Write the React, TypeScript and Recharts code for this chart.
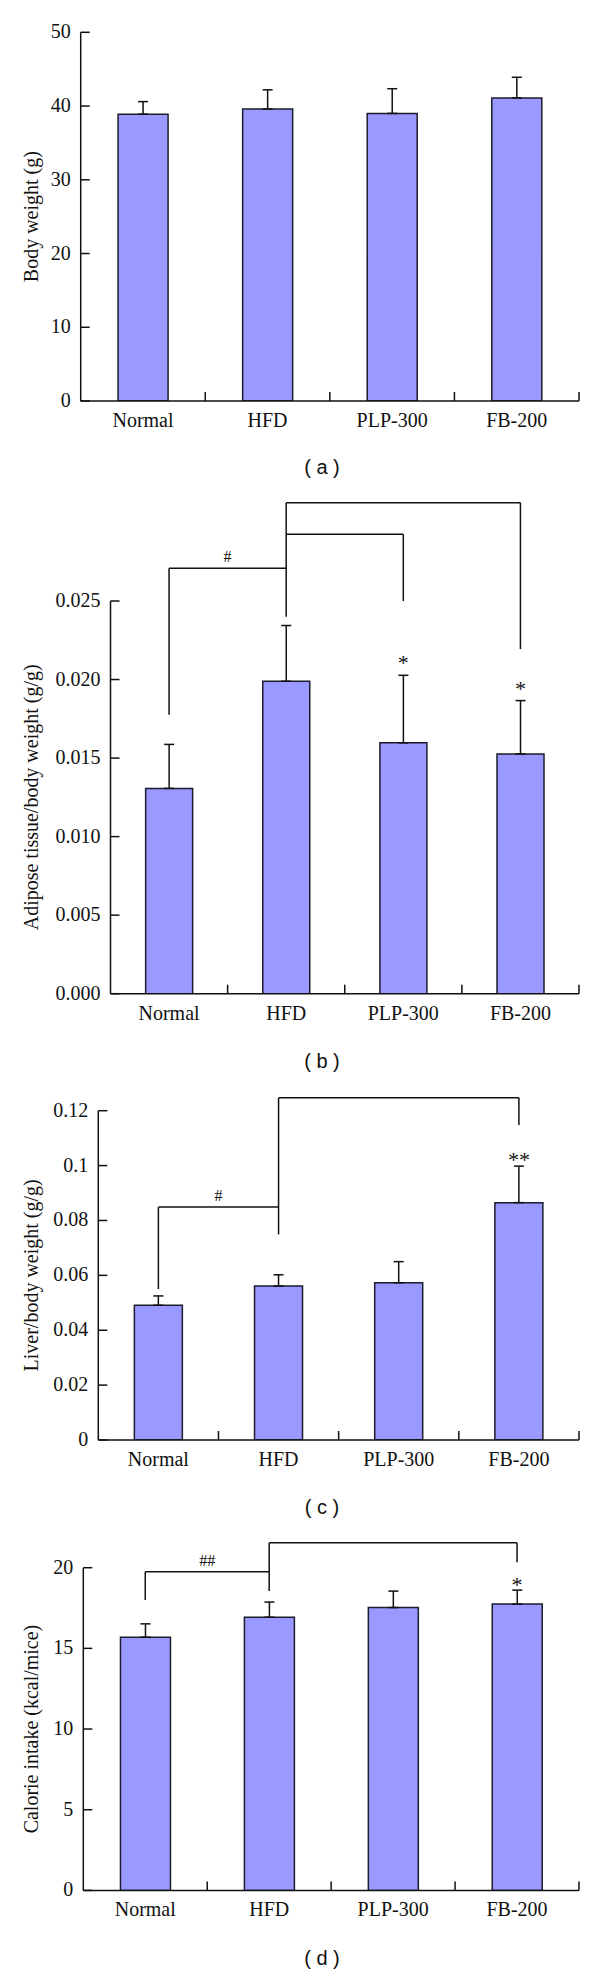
import React from 'react';
import { BarChart, Bar, XAxis, YAxis, ErrorBar, ReferenceLine, ReferenceDot } from 'recharts';

const categories = ['Normal', 'HFD', 'PLP-300', 'FB-200'];

// (a) Body weight
const bodyWeightMean = [38.9, 39.6, 39.0, 41.1];
const bodyWeightSD = [1.7, 2.6, 3.35, 2.8];
const bodyWeightTicks = [0, 10, 20, 30, 40, 50];
const bodyWeightMarks = ['', '', '', ''];

// (b) Adipose tissue / body weight
const adiposeMean = [0.01307, 0.01989, 0.01597, 0.01526];
const adiposeSD = [0.0028, 0.00355, 0.0043, 0.0034];
const adiposeTicks = [0, 0.005, 0.01, 0.015, 0.02, 0.025];
const adiposeMarks = ['', '', '*', '*'];

// (c) Liver / body weight
const liverMean = [0.0491, 0.0561, 0.0573, 0.0865];
const liverSD = [0.0034, 0.0041, 0.0077, 0.0133];
const liverTicks = [0, 0.02, 0.04, 0.06, 0.08, 0.1, 0.12];
const liverMarks = ['', '', '', '**'];

// (d) Calorie intake
const calorieMean = [15.69, 16.93, 17.53, 17.75];
const calorieSD = [0.83, 0.94, 1.02, 0.86];
const calorieTicks = [0, 5, 10, 15, 20];
const calorieMarks = ['', '', '', '*'];

// significance brackets: level of horizontal line, drop ends of verticals
const bodyWeightBrackets: any[] = [];
const adiposeBrackets = [
  { from: 'HFD', to: 'FB-200', level: 0.03126, fromDrop: 0.024, toDrop: 0.02194, mark: '' },
  { from: 'HFD', to: 'PLP-300', level: 0.02925, fromDrop: null, toDrop: 0.025, mark: '' },
  { from: 'Normal', to: 'HFD', level: 0.02708, fromDrop: 0.01776, toDrop: null, mark: '#' },
];
const liverBrackets = [
  { from: 'HFD', to: 'FB-200', level: 0.1247, fromDrop: 0.0749, toDrop: 0.1148, mark: '' },
  { from: 'Normal', to: 'HFD', level: 0.0849, fromDrop: 0.055, toDrop: null, mark: '#' },
];
const calorieBrackets = [
  { from: 'HFD', to: 'FB-200', level: 21.55, fromDrop: 18.56, toDrop: 20.33, mark: '' },
  { from: 'Normal', to: 'HFD', level: 19.75, fromDrop: 18.0, toDrop: null, mark: '##' },
];

const SERIF = '"Liberation Serif", "Times New Roman", serif';
const SANS = '"Liberation Sans", Arial, sans-serif';
const INK = '#111';
const CHART_W = 600;
const RIGHT = 21;

const YTick = (props: any) => {
  const { x, y, payload, fmt } = props;
  return (
    <g>
      <line x1={x + 10} x2={x + 19} y1={y} y2={y} stroke={INK} strokeWidth={1.5} />
      <text x={x} y={y} dy={6} textAnchor="end" fontFamily={SERIF} fontSize={20} fill={INK}>
        {fmt(payload.value)}
      </text>
    </g>
  );
};

// category label plus the boundary tick at the right edge of its band
const XTick = (props: any) => {
  const { x, y, payload, band } = props;
  const axisY = y - 11;
  const edge = x + band / 2;
  return (
    <g>
      <line x1={edge} x2={edge} y1={axisY} y2={axisY - 9} stroke={INK} strokeWidth={1.5} />
      <text x={x} y={y} dy={15} textAnchor="middle" fontFamily={SERIF} fontSize={20} fill={INK}>
        {payload.value}
      </text>
    </g>
  );
};

const YLabel = (props: any) => {
  const { viewBox, text } = props;
  const cx = 33;
  const cy = viewBox.y + viewBox.height / 2;
  return (
    <text
      x={cx}
      y={cy}
      dy="0.24em"
      transform={`rotate(-90 ${cx} ${cy})`}
      textAnchor="middle"
      fontFamily={SERIF}
      fontSize={20}
      fill={INK}
    >
      {text}
    </text>
  );
};

function Panel(p: any) {
  const data = categories.map((c, i) => ({ name: c, value: p.mean[i], err: [0, p.sd[i]] }));
  const yMax = p.ticks[p.ticks.length - 1];
  const band = (CHART_W - RIGHT - p.left) / categories.length;
  const lineProps = { stroke: INK, strokeWidth: 1.5, ifOverflow: 'visible' as const };
  const refs: any[] = [];
  p.brackets.forEach((b: any, i: number) => {
    refs.push(
      <ReferenceLine
        key={`h${i}`}
        segment={[{ x: b.from, y: b.level }, { x: b.to, y: b.level }]}
        {...lineProps}
        label={
          b.mark
            ? { value: b.mark, position: 'top', offset: 6, fontSize: 16, fontFamily: SERIF, fill: INK }
            : undefined
        }
      />
    );
    if (b.fromDrop !== null)
      refs.push(
        <ReferenceLine key={`f${i}`} segment={[{ x: b.from, y: b.level }, { x: b.from, y: b.fromDrop }]} {...lineProps} />
      );
    if (b.toDrop !== null)
      refs.push(
        <ReferenceLine key={`t${i}`} segment={[{ x: b.to, y: b.level }, { x: b.to, y: b.toDrop }]} {...lineProps} />
      );
  });
  const dots = data
    .map((d, i) =>
      p.marks[i] ? (
        <ReferenceDot
          key={`m${i}`}
          x={d.name}
          y={p.mean[i] + p.sd[i]}
          r={0}
          fill="none"
          stroke="none"
          ifOverflow="visible"
          label={{ value: p.marks[i], position: 'top', offset: p.markOffset, fontSize: 22, fontFamily: SERIF, fill: INK }}
        />
      ) : null
    )
    .filter(Boolean);

  return (
    <div style={{ position: 'absolute', left: 0, top: p.top }}>
      <BarChart
        width={CHART_W}
        height={p.height}
        data={data}
        margin={{ top: p.mTop, right: RIGHT, left: 0, bottom: 0 }}
        barCategoryGap="30%"
      >
        <XAxis
          dataKey="name"
          interval={0}
          tickLine={false}
          tickSize={0}
          tickMargin={11}
          height={30}
          axisLine={{ stroke: INK, strokeWidth: 1.5 }}
          tick={<XTick band={band} />}
        />
        <YAxis
          width={p.left}
          domain={[0, yMax]}
          ticks={p.ticks}
          interval={0}
          allowDataOverflow
          tickLine={false}
          tickSize={0}
          tickMargin={10}
          axisLine={{ stroke: INK, strokeWidth: 1.5 }}
          tick={<YTick fmt={p.fmt} />}
          label={<YLabel text={p.label} />}
        />
        <Bar dataKey="value" fill="#9999FF" stroke="#1c1c2c" strokeWidth={1.5} isAnimationActive={false}>
          <ErrorBar dataKey="err" width={5} stroke={INK} strokeWidth={1.5} isAnimationActive={false} />
        </Bar>
        {refs}
        {dots}
      </BarChart>
      <div
        style={{
          position: 'absolute',
          left: 322,
          top: p.captionY - p.top,
          transform: 'translate(-50%, -50%)',
          fontFamily: SANS,
          fontSize: 20,
          color: INK,
          whiteSpace: 'pre',
        }}
      >
        {p.caption}
      </div>
    </div>
  );
}

export default function App() {
  return (
    <div style={{ position: 'absolute', left: 0, top: 0, width: 600, height: 1975, background: '#fff' }}>
      <Panel
        top={0}
        height={431}
        mTop={32.3}
        left={80.7}
        label="Body weight (g)"
        mean={bodyWeightMean}
        sd={bodyWeightSD}
        ticks={bodyWeightTicks}
        fmt={(v: number) => String(v)}
        marks={bodyWeightMarks}
        markOffset={4}
        brackets={bodyWeightBrackets}
        caption="( a )"
        captionY={467}
      />
      <Panel
        top={480}
        height={543.7}
        mTop={121}
        left={110.5}
        label="Adipose tissue/body weight (g/g)"
        mean={adiposeMean}
        sd={adiposeSD}
        ticks={adiposeTicks}
        fmt={(v: number) => v.toFixed(3)}
        marks={adiposeMarks}
        markOffset={5}
        brackets={adiposeBrackets}
        caption="( b )"
        captionY={1061}
      />
      <Panel
        top={1085}
        height={385}
        mTop={25.7}
        left={98.3}
        label="Liver/body weight (g/g)"
        mean={liverMean}
        sd={liverSD}
        ticks={liverTicks}
        fmt={(v: number) => String(v)}
        marks={liverMarks}
        markOffset={-1}
        brackets={liverBrackets}
        caption="( c )"
        captionY={1507}
      />
      <Panel
        top={1530}
        height={390.4}
        mTop={37.7}
        left={83.3}
        label="Calorie intake (kcal/mice)"
        mean={calorieMean}
        sd={calorieSD}
        ticks={calorieTicks}
        fmt={(v: number) => String(v)}
        marks={calorieMarks}
        markOffset={-2}
        brackets={calorieBrackets}
        caption="( d )"
        captionY={1958}
      />
    </div>
  );
}
